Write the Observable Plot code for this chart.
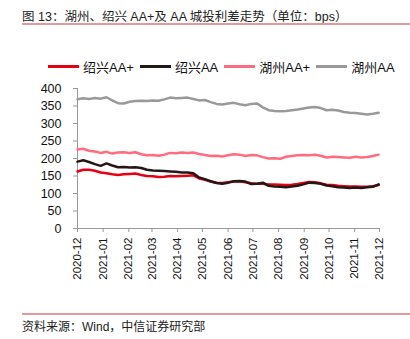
<!DOCTYPE html>
<html><head><meta charset="utf-8">
<script src="https://cdn.jsdelivr.net/npm/d3@7"></script>
<script src="https://cdn.jsdelivr.net/npm/@observablehq/plot@0.6"></script>
<style>
body{margin:0;width:410px;height:339px;position:relative;background:#fff;font-family:"Liberation Sans","Noto Sans CJK SC",sans-serif;overflow:hidden}
#title{position:absolute;left:22px;top:6px;font-size:12.5px;color:#222;white-space:nowrap}
#tline{position:absolute;left:22px;right:0;top:23px;height:1.5px;background:#e39a9a}
#legend{position:absolute;left:48px;top:57px;font-size:13px;color:#111;display:flex;align-items:center;white-space:nowrap}
#legend .it{display:flex;align-items:center;margin-right:6px}
#legend .sw{width:31px;height:3px;margin-right:4px}
#chart{position:absolute;left:0;top:78px}
#sline{position:absolute;left:22px;right:0;top:313px;height:1.5px;background:#e39a9a}
#source{position:absolute;left:22px;top:317px;font-size:12px;color:#222;white-space:nowrap}
</style></head><body>
<div id="title">图 13：湖州、绍兴 AA+及 AA 城投利差走势（单位：bps）</div>
<div id="tline"></div>
<div id="legend"></div>
<div id="chart"></div>
<div id="sline"></div>
<div id="source">资料来源：Wind，中信证券研究部</div>
<script>
const dates = ["2020-12-01","2020-12-08","2020-12-15","2020-12-22","2020-12-29","2021-01-05","2021-01-12","2021-01-19","2021-01-26","2021-02-02","2021-02-09","2021-02-16","2021-02-23","2021-03-02","2021-03-09","2021-03-16","2021-03-23","2021-03-30","2021-04-06","2021-04-13","2021-04-20","2021-04-27","2021-05-04","2021-05-11","2021-05-18","2021-05-25","2021-06-01","2021-06-08","2021-06-15","2021-06-22","2021-06-29","2021-07-06","2021-07-13","2021-07-20","2021-07-27","2021-08-03","2021-08-10","2021-08-17","2021-08-24","2021-08-31","2021-09-07","2021-09-14","2021-09-21","2021-09-28","2021-10-05","2021-10-12","2021-10-19","2021-10-26","2021-11-02","2021-11-09","2021-11-16","2021-11-23","2021-11-30"];
const seriesNames = ["绍兴AA+","绍兴AA","湖州AA+","湖州AA"];
const seriesColors = ["#e60012","#231815","#ff6b7f","#999999"];
const shaoxingAAplus = [163,168,168,165,160,158,155,153,155,156,157,153,150,149,147,148,150,149,150,151,152,143,139,134,131,130,132,134,135,132,129,128,128,126,126,125,124,125,127,130,133,132,129,125,124,122,121,120,120,119,119,121,124];
const shaoxingAA = [191,195,190,184,179,186,180,175,176,174,175,173,168,166,165,164,163,162,160,160,158,146,141,135,130,128,131,135,136,134,127,128,131,122,120,119,118,120,122,126,131,130,128,123,121,118,117,116,117,116,118,119,126];
const huzhouAAplus = [226,228,222,220,216,219,214,217,218,216,218,212,209,210,208,211,216,215,217,216,217,213,210,207,208,206,209,212,211,207,210,209,204,200,201,199,205,207,209,210,209,211,208,203,205,204,203,202,205,203,204,207,211];
const huzhouAA = [369,372,370,373,371,375,366,358,357,362,364,365,364,366,365,369,374,372,373,374,370,366,367,361,356,354,357,359,355,352,356,357,346,338,336,335,336,338,340,343,346,347,344,338,339,337,333,331,330,328,326,328,331];
const yTicks = [0,50,100,150,200,250,300,350,400];
const xStart = "2020-12-01", xEnd = "2021-12-01";

const valuesBySeries = [shaoxingAAplus, shaoxingAA, huzhouAAplus, huzhouAA];
const parse = d3.utcParse("%Y-%m-%d");
const rows = [];
valuesBySeries.forEach((vals, s) => vals.forEach((v, i) => rows.push({date: parse(dates[i]), value: v, series: seriesNames[s]})));

// legend
const lg = document.getElementById("legend");
seriesNames.forEach((n, i) => {
  const it = document.createElement("div"); it.className = "it";
  const sw = document.createElement("div"); sw.className = "sw"; sw.style.background = seriesColors[i];
  const t = document.createElement("span"); t.textContent = n;
  it.appendChild(sw); it.appendChild(t); lg.appendChild(it);
});

const x0 = parse(xStart), x1 = parse(xEnd);
const chart = Plot.plot({
  width: 410, height: 210,
  marginLeft: 77, marginRight: 31, marginTop: 10, marginBottom: 60,
  style: {fontFamily: "'Liberation Sans', Arial, sans-serif", fontSize: "12px", color: "#111", background: "transparent"},
  x: {type: "utc", domain: [x0, x1]},
  y: {domain: [0, 400]},
  color: {domain: seriesNames, range: seriesColors},
  marks: [
    Plot.ruleX([x0], {stroke: "#999", strokeWidth: 1}),
    Plot.ruleY([0], {stroke: "#999", strokeWidth: 1}),
    Plot.axisY({ticks: yTicks, tickSize: 4, tickPadding: 12, stroke: "#999", label: null, fontSize: 12.5}),
    Plot.axisX({ticks: d3.utcMonth.range(x0, d3.utcDay.offset(x1, 1)), tickFormat: d3.utcFormat("%Y-%m"), tickRotate: -90, tickSize: 4, tickPadding: 5, stroke: "#999", label: null, fontSize: 11.5}),
    Plot.line(rows, {x: "date", y: "value", z: "series", stroke: "series", strokeWidth: 2.5, curve: "linear"})
  ]
});
document.getElementById("chart").appendChild(chart);
</script>
</body></html>
